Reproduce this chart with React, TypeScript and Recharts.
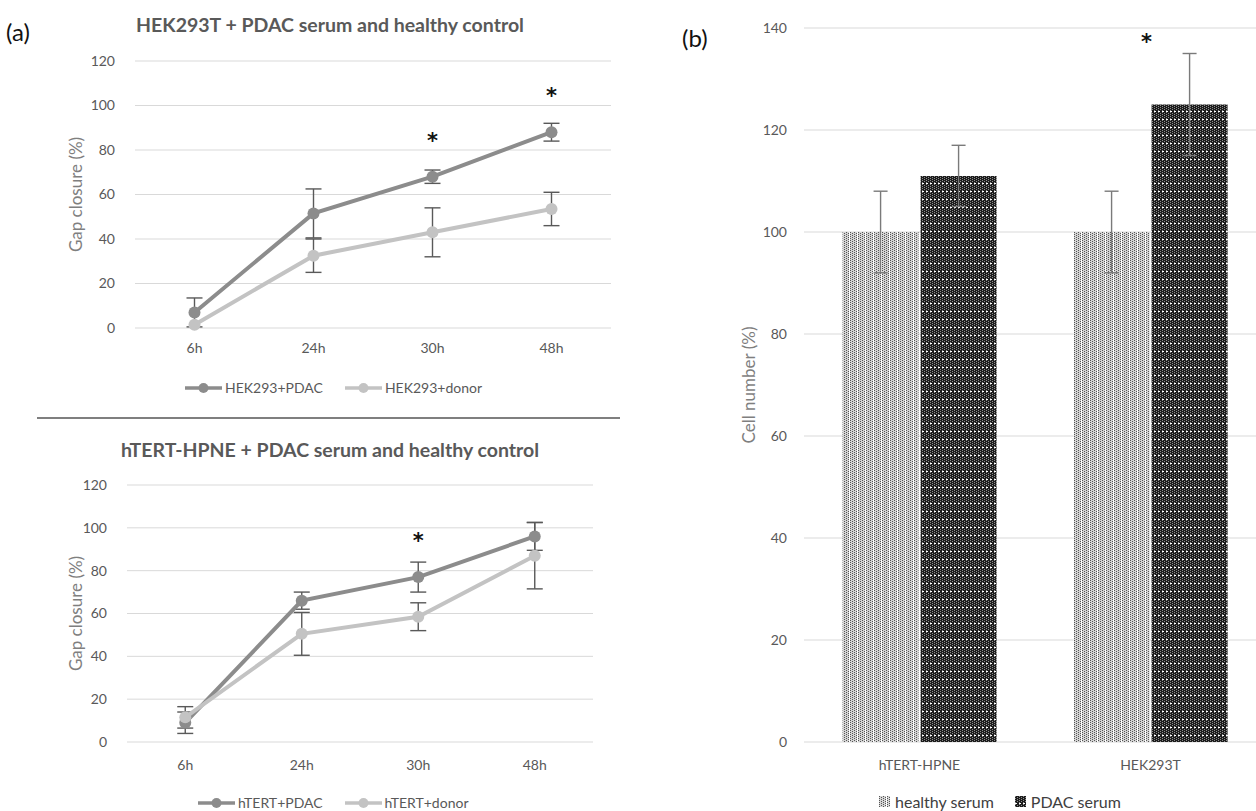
import React from 'react';
import { LineChart, Line, BarChart, Bar, XAxis, YAxis, CartesianGrid, ErrorBar, LabelList } from 'recharts';

// time points of the scratch assay
const timePoints = ['6h', '24h', '30h', '48h'];

// HEK293T gap closure (%)
const hekPdac = [7, 51.5, 68, 88];
const hekPdacErr = [6.5, 11, 3, 4];
const hekDonor = [1.5, 32.5, 43, 53.5];
const hekDonorErr = [0, 7.5, 11, 7.5];
const hekSig = ['', '', '*', '*'];

// hTERT-HPNE gap closure (%)
const htertPdac = [9, 66, 77, 96];
const htertPdacErr = [5, 4, 7, 6.5];
const htertDonor = [11.5, 50.5, 58.5, 87];
const htertDonorErr = [5, 10, 6.5, 15.5];
const htertSig = ['', '', '*', ''];

const gapTicks = [0, 20, 40, 60, 80, 100, 120];

// cell number (%)
const cellLines = ['hTERT-HPNE', 'HEK293T'];
const healthySerum = [100, 100];
const healthySerumErr = [8, 8];
const pdacSerum = [111, 125];
const pdacSerumErr = [6, 10];
const barSig = ['', '*'];
const cellTicks = [0, 20, 40, 60, 80, 100, 120, 140];

const DARK = '#8c8c8c';
const LIGHT = '#c3c3c3';
const FONT = 'Lato, "Open Sans", sans-serif';

const hekData = timePoints.map((t, i) => ({
    time: t,
    pdac: hekPdac[i],
    pdacErr: hekPdacErr[i],
    donor: hekDonor[i],
    donorErr: hekDonorErr[i],
    sig: hekSig[i],
}));

const htertData = timePoints.map((t, i) => ({
    time: t,
    pdac: htertPdac[i],
    pdacErr: htertPdacErr[i],
    donor: htertDonor[i],
    donorErr: htertDonorErr[i],
    sig: htertSig[i],
}));

const barData = cellLines.map((c, i) => ({
    line: c,
    healthy: healthySerum[i],
    healthyErr: healthySerumErr[i],
    pdac: pdacSerum[i],
    pdacErr: pdacSerumErr[i],
    sig: barSig[i],
}));

const tick = { fill: '#595959', fontSize: 14, fontFamily: FONT };

// asterisk for significant points
const star = (dx: number, dy: number) => (props: any) => {
    const { x, y, value } = props;
    if (!value) return null;
    return (
        <text x={x + dx} y={y + dy} textAnchor="middle" fontSize={21} fontWeight={700}
            fontFamily='"DejaVu Sans", sans-serif' fill="#111">
            {value}
        </text>
    );
};

const yTitle = (text: string, x: number) => (props: any) => {
    const { viewBox } = props;
    const cy = viewBox.y + viewBox.height / 2;
    return (
        <text x={x} y={cy} transform={`rotate(-90 ${x} ${cy})`} textAnchor="middle" dominantBaseline="central"
            fontSize={17} fontFamily={FONT} fill="#7f7f7f">
            {text}
        </text>
    );
};

function LineIcon({ color }: { color: string }) {
    return (
        <svg width={37} height={12} style={{ display: 'block' }}>
            <line x1={0} y1={6} x2={37} y2={6} stroke={color} strokeWidth={3.5} />
            <circle cx={18.5} cy={6} r={5} fill={color} />
        </svg>
    );
}

function LineLegend({ names, left, top }: { names: string[]; left: number; top: number }) {
    return (
        <div style={{ position: 'absolute', left, top, display: 'flex', alignItems: 'center', fontFamily: FONT, fontSize: 14, color: '#595959' }}>
            <LineIcon color={DARK} />
            <span style={{ marginLeft: 3, marginRight: 22 }}>{names[0]}</span>
            <LineIcon color={LIGHT} />
            <span style={{ marginLeft: 3 }}>{names[1]}</span>
        </div>
    );
}

interface GapChartProps {
    data: any[];
    top: number;
    height: number;
    yAxisWidth: number;
    right: number;
    marginTop: number;
    marginBottom: number;
    pad: number;
    tickMargin: number;
}

function GapChart({ data, top, height, yAxisWidth, right, marginTop, marginBottom, pad, tickMargin }: GapChartProps) {
    return (
        <div style={{ position: 'absolute', left: 0, top }}>
            <LineChart width={640} height={height} data={data}
                margin={{ top: marginTop, right, left: 0, bottom: marginBottom }}>
                <CartesianGrid vertical={false} stroke="#d9d9d9" />
                <XAxis dataKey="time" height={30} axisLine={false} tickLine={false} tickMargin={tickMargin}
                    padding={{ left: pad, right: pad }} tick={tick} />
                <YAxis width={yAxisWidth} domain={[0, 120]} ticks={gapTicks} axisLine={false} tickLine={false}
                    tickMargin={14} tick={tick} label={{ content: yTitle('Gap closure (%)', 75) }} />
                <Line dataKey="pdac" stroke={DARK} strokeWidth={4} isAnimationActive={false}
                    dot={{ r: 6, fill: DARK, stroke: DARK, strokeWidth: 0 }} activeDot={false}>
                    <ErrorBar dataKey="pdacErr" direction="y" width={8} stroke="#595959" strokeWidth={1.4} />
                    <LabelList dataKey="sig" content={star(0, -29)} />
                </Line>
                <Line dataKey="donor" stroke={LIGHT} strokeWidth={4} isAnimationActive={false}
                    dot={{ r: 6, fill: LIGHT, stroke: LIGHT, strokeWidth: 0 }} activeDot={false}>
                    <ErrorBar dataKey="donorErr" direction="y" width={8} stroke="#595959" strokeWidth={1.4} />
                </Line>
            </LineChart>
        </div>
    );
}

const healthyDots = [[0, 0], [2, 1], [4, 0], [6, 1]];
const pdacDots = [[0, 0], [2, 1], [0, 2], [2, 3], [0, 4], [2, 5], [0, 6]];

export default function App() {
    return (
        <div style={{ position: 'absolute', left: 0, top: 0, width: 1256, height: 811, overflow: 'hidden', background: '#fff' }}>
            {/* (a) gap closure */}
            <div style={{ position: 'absolute', left: 6, top: 18, fontFamily: FONT, fontSize: 24, lineHeight: '28px', color: '#111' }}>(a)</div>
            <div style={{ position: 'absolute', left: 37, width: 586, top: 12, textAlign: 'center', fontFamily: FONT, fontWeight: 700, fontSize: 19.5, lineHeight: '26px', color: '#595959' }}>
                HEK293T + PDAC serum and healthy control
            </div>
            <GapChart data={hekData} top={0} height={410} yAxisWidth={135} right={29} marginTop={61} marginBottom={52} pad={59.5} tickMargin={9} />
            <LineLegend names={['HEK293+PDAC', 'HEK293+donor']} left={185} top={379} />

            <div style={{ position: 'absolute', left: 37, top: 417, width: 583, height: 2, background: '#7f7f7f' }} />

            <div style={{ position: 'absolute', left: 37, width: 586, top: 437, textAlign: 'center', fontFamily: FONT, fontWeight: 700, fontSize: 19.5, lineHeight: '26px', color: '#595959' }}>
                hTERT-HPNE + PDAC serum and healthy control
            </div>
            <GapChart data={htertData} top={420} height={391} yAxisWidth={127} right={47} marginTop={65} marginBottom={39} pad={58.25} tickMargin={12} />
            <LineLegend names={['hTERT+PDAC', 'hTERT+donor']} left={198} top={794} />

            {/* (b) cell number */}
            <div style={{ position: 'absolute', left: 682, top: 24, fontFamily: FONT, fontSize: 24, lineHeight: '28px', color: '#111' }}>(b)</div>
            <div style={{ position: 'absolute', left: 690, top: 0 }}>
                <BarChart width={600} height={811} data={barData} margin={{ top: 28, right: 24, left: 0, bottom: 39 }}
                    barCategoryGap="16.7%" barGap={2}>
                    <defs>
                        <pattern id="healthyPat" width={8} height={2} patternUnits="userSpaceOnUse">
                            <rect width={8} height={2} fill="#d4d4d4" />
                            {healthyDots.map(([x, y]) => <rect key={`h${x}${y}`} x={x} y={y} width={1} height={1} fill="#555" />)}
                            <rect x={7} y={0} width={1} height={2} fill="#fff" />
                        </pattern>
                        <pattern id="pdacPat" width={4} height={8} patternUnits="userSpaceOnUse">
                            <rect width={4} height={8} fill="#1c1c1c" />
                            {pdacDots.map(([x, y]) => <rect key={`p${x}${y}`} x={x} y={y} width={1} height={1} fill="#8c8c8c" />)}
                            <rect x={0} y={7} width={2} height={1} fill="#fff" />
                        </pattern>
                    </defs>
                    <CartesianGrid vertical={false} stroke="#d9d9d9" />
                    <XAxis dataKey="line" height={30} axisLine={false} tickLine={false} tickMargin={12} tick={tick} />
                    <YAxis width={114} domain={[0, 140]} ticks={cellTicks} axisLine={false} tickLine={false}
                        tickMargin={11} tick={tick} label={{ content: yTitle('Cell number (%)', 58) }} />
                    <Bar dataKey="healthy" fill="url(#healthyPat)" isAnimationActive={false}>
                        <ErrorBar dataKey="healthyErr" direction="y" width={7} stroke="#7a7a7a" strokeWidth={1.4} />
                    </Bar>
                    <Bar dataKey="pdac" fill="url(#pdacPat)" isAnimationActive={false}>
                        <ErrorBar dataKey="pdacErr" direction="y" width={7} stroke="#7a7a7a" strokeWidth={1.4} />
                        <LabelList dataKey="sig" content={star(-5, -56)} />
                    </Bar>
                </BarChart>
            </div>
            <div style={{ position: 'absolute', left: 879, top: 792, display: 'flex', alignItems: 'center', fontFamily: FONT, fontSize: 16, color: '#404040' }}>
                <svg width={11} height={11}><rect width={11} height={11} fill="url(#healthyPat)" /></svg>
                <span style={{ marginLeft: 5, marginRight: 21 }}>healthy serum</span>
                <svg width={11} height={11}><rect width={11} height={11} fill="url(#pdacPat)" /></svg>
                <span style={{ marginLeft: 5 }}>PDAC serum</span>
            </div>
        </div>
    );
}
